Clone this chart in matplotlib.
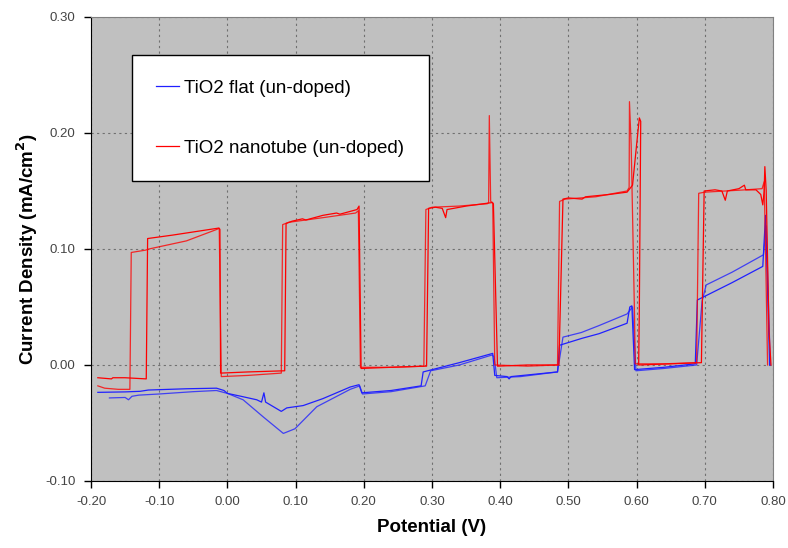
import matplotlib
matplotlib.use("Agg")
import matplotlib.pyplot as plt
from matplotlib.ticker import FormatStrFormatter, MultipleLocator

plt.rcParams['font.family'] = ['Liberation Sans', 'DejaVu Sans']

# chopped-light sweeps, two passes per sample
red_a_x = [-0.190, -0.180, -0.160, -0.143, -0.141, -0.120, -0.115, -0.060, -0.015, -0.012,
           -0.009, 0.030, 0.079, 0.081, 0.090, 0.140, 0.188, 0.192, 0.195, 0.240,
           0.288, 0.291, 0.300, 0.340, 0.381, 0.383, 0.384, 0.386, 0.389, 0.392,
           0.440, 0.484, 0.487, 0.495, 0.540, 0.586, 0.589, 0.5895, 0.592, 0.597,
           0.598, 0.640, 0.688, 0.691, 0.700, 0.730, 0.760, 0.784, 0.787, 0.789, 0.792]
red_a_y = [-0.018, -0.020, -0.021, -0.021, 0.097, 0.099, 0.100, 0.107, 0.117, 0.118,
           -0.010, -0.009, -0.007, 0.121, 0.123, 0.127, 0.131, 0.133, -0.002, -0.002,
           -0.001, 0.134, 0.136, 0.137, 0.139, 0.140, 0.215, 0.141, 0.140, 0.000,
           -0.001, 0.000, 0.141, 0.143, 0.145, 0.150, 0.153, 0.227, 0.190, 0.040,
           0.001, 0.001, 0.002, 0.148, 0.149, 0.150, 0.151, 0.152, 0.158, 0.100, 0.000]

red_b_x = [-0.190, -0.170, -0.168, -0.150, -0.119, -0.117, -0.080, -0.013, -0.011, -0.010,
           0.030, 0.084, 0.086, 0.095, 0.110, 0.115, 0.140, 0.160, 0.165, 0.190,
           0.193, 0.196, 0.240, 0.292, 0.295, 0.305, 0.315, 0.320, 0.322, 0.350,
           0.388, 0.390, 0.396, 0.440, 0.486, 0.492, 0.500, 0.520, 0.525, 0.560,
           0.586, 0.594, 0.600, 0.604, 0.606, 0.604, 0.603, 0.650, 0.695, 0.699,
           0.715, 0.725, 0.730, 0.733, 0.750, 0.758, 0.760, 0.775, 0.782, 0.785,
           0.787, 0.788, 0.790, 0.794, 0.797]
red_b_y = [-0.011, -0.012, -0.011, -0.011, -0.012, 0.109, 0.112, 0.118, 0.117, -0.007,
           -0.006, -0.005, 0.122, 0.124, 0.126, 0.125, 0.129, 0.131, 0.130, 0.134,
           0.137, -0.003, -0.002, -0.001, 0.135, 0.136, 0.135, 0.127, 0.134, 0.137,
           0.140, 0.139, -0.001, 0.000, 0.000, 0.143, 0.144, 0.143, 0.145, 0.147,
           0.149, 0.155, 0.190, 0.213, 0.210, 0.050, 0.000, 0.001, 0.002, 0.150,
           0.151, 0.150, 0.142, 0.150, 0.152, 0.155, 0.151, 0.151, 0.147, 0.138,
           0.150, 0.171, 0.150, 0.030, 0.000]

blue_a_x = [-0.190, -0.150, -0.128, -0.116, -0.060, -0.016, -0.005, 0.000, 0.020, 0.043,
            0.050, 0.0535, 0.056, 0.079, 0.087, 0.111, 0.140, 0.180, 0.193, 0.197,
            0.240, 0.284, 0.287, 0.340, 0.386, 0.389, 0.392, 0.410, 0.413, 0.416,
            0.450, 0.484, 0.487, 0.520, 0.545, 0.586, 0.590, 0.593, 0.597, 0.640,
            0.686, 0.689, 0.740, 0.785, 0.789, 0.795]
blue_a_y = [-0.0236, -0.0232, -0.0227, -0.0216, -0.0205, -0.020, -0.022, -0.0245, -0.027, -0.030,
            -0.032, -0.024, -0.032, -0.040, -0.037, -0.035, -0.029, -0.019, -0.017, -0.024,
            -0.022, -0.018, -0.006, 0.002, 0.0095, 0.010, -0.009, -0.010, -0.012, -0.010,
            -0.008, -0.006, 0.017, 0.023, 0.027, 0.036, 0.050, 0.051, -0.004, -0.002,
            0.001, 0.056, 0.071, 0.085, 0.129, 0.000]

blue_b_x = [-0.173, -0.150, -0.145, -0.140, -0.130, -0.100, -0.050, -0.016, 0.000, 0.023,
            0.053, 0.082, 0.099, 0.131, 0.180, 0.194, 0.198, 0.240, 0.290, 0.298,
            0.340, 0.388, 0.391, 0.395, 0.430, 0.484, 0.492, 0.519, 0.545, 0.586,
            0.594, 0.599, 0.640, 0.688, 0.696, 0.702, 0.740, 0.786, 0.790, 0.796]
blue_b_y = [-0.0284, -0.028, -0.030, -0.027, -0.026, -0.025, -0.023, -0.022, -0.0245, -0.030,
            -0.045, -0.059, -0.055, -0.036, -0.021, -0.018, -0.025, -0.023, -0.018, -0.005,
            0.000, 0.0086, 0.007, -0.011, -0.010, -0.006, 0.024, 0.028, 0.034, 0.044,
            0.050, -0.005, -0.003, 0.000, 0.055, 0.069, 0.080, 0.095, 0.120, 0.000]

fig = plt.figure(figsize=(7.88, 5.48), dpi=100)
ax = fig.add_axes([0.1155, 0.1223, 0.8655, 0.8467])
ax.set_facecolor('#C0C0C0')

ax.plot(blue_a_x, blue_a_y, color='#2020FF', lw=0.9, label='TiO2 flat (un-doped)')
ax.plot(blue_b_x, blue_b_y, color='#2020FF', lw=0.9, alpha=0.8)
ax.plot(red_a_x, red_a_y, color='#FF0000', lw=0.9, alpha=0.8)
ax.plot(red_b_x, red_b_y, color='#FF0000', lw=0.9, label='TiO2 nanotube (un-doped)')

ax.set_xlim(-0.2, 0.8)
ax.set_ylim(-0.1, 0.3)
ax.xaxis.set_major_locator(MultipleLocator(0.1))
ax.yaxis.set_major_locator(MultipleLocator(0.1))
ax.xaxis.set_major_formatter(FormatStrFormatter('%.2f'))
ax.yaxis.set_major_formatter(FormatStrFormatter('%.2f'))
ax.grid(True, color='#707070', linestyle=(0, (2, 3)), lw=0.8)
ax.set_axisbelow(True)

for side in ['top', 'right']:
    ax.spines[side].set_color('#808080')
for side in ['left', 'bottom']:
    ax.spines[side].set_color('black')
ax.tick_params(direction='out', length=5, width=1, labelsize=9.5, labelcolor='#444444', pad=6)

ax.set_xlabel('Potential (V)', fontsize=13.5, fontweight='bold', labelpad=8)
ax.set_ylabel('Current Density (mA/cm$^\\mathbf{2}$)', fontsize=13.5, fontweight='bold', labelpad=4)

leg = ax.legend(loc='upper left', bbox_to_anchor=(0.060, 0.653, 0.436, 0.265), mode='expand',
                borderaxespad=0, fontsize=13.5, frameon=True, fancybox=False,
                borderpad=1.3, labelspacing=2.3, handlelength=1.2, handletextpad=0.3)
leg.get_frame().set_edgecolor('black')
leg.get_frame().set_linewidth(1.0)
leg.get_frame().set_alpha(1.0)

fig.savefig('out.png', dpi=100)
